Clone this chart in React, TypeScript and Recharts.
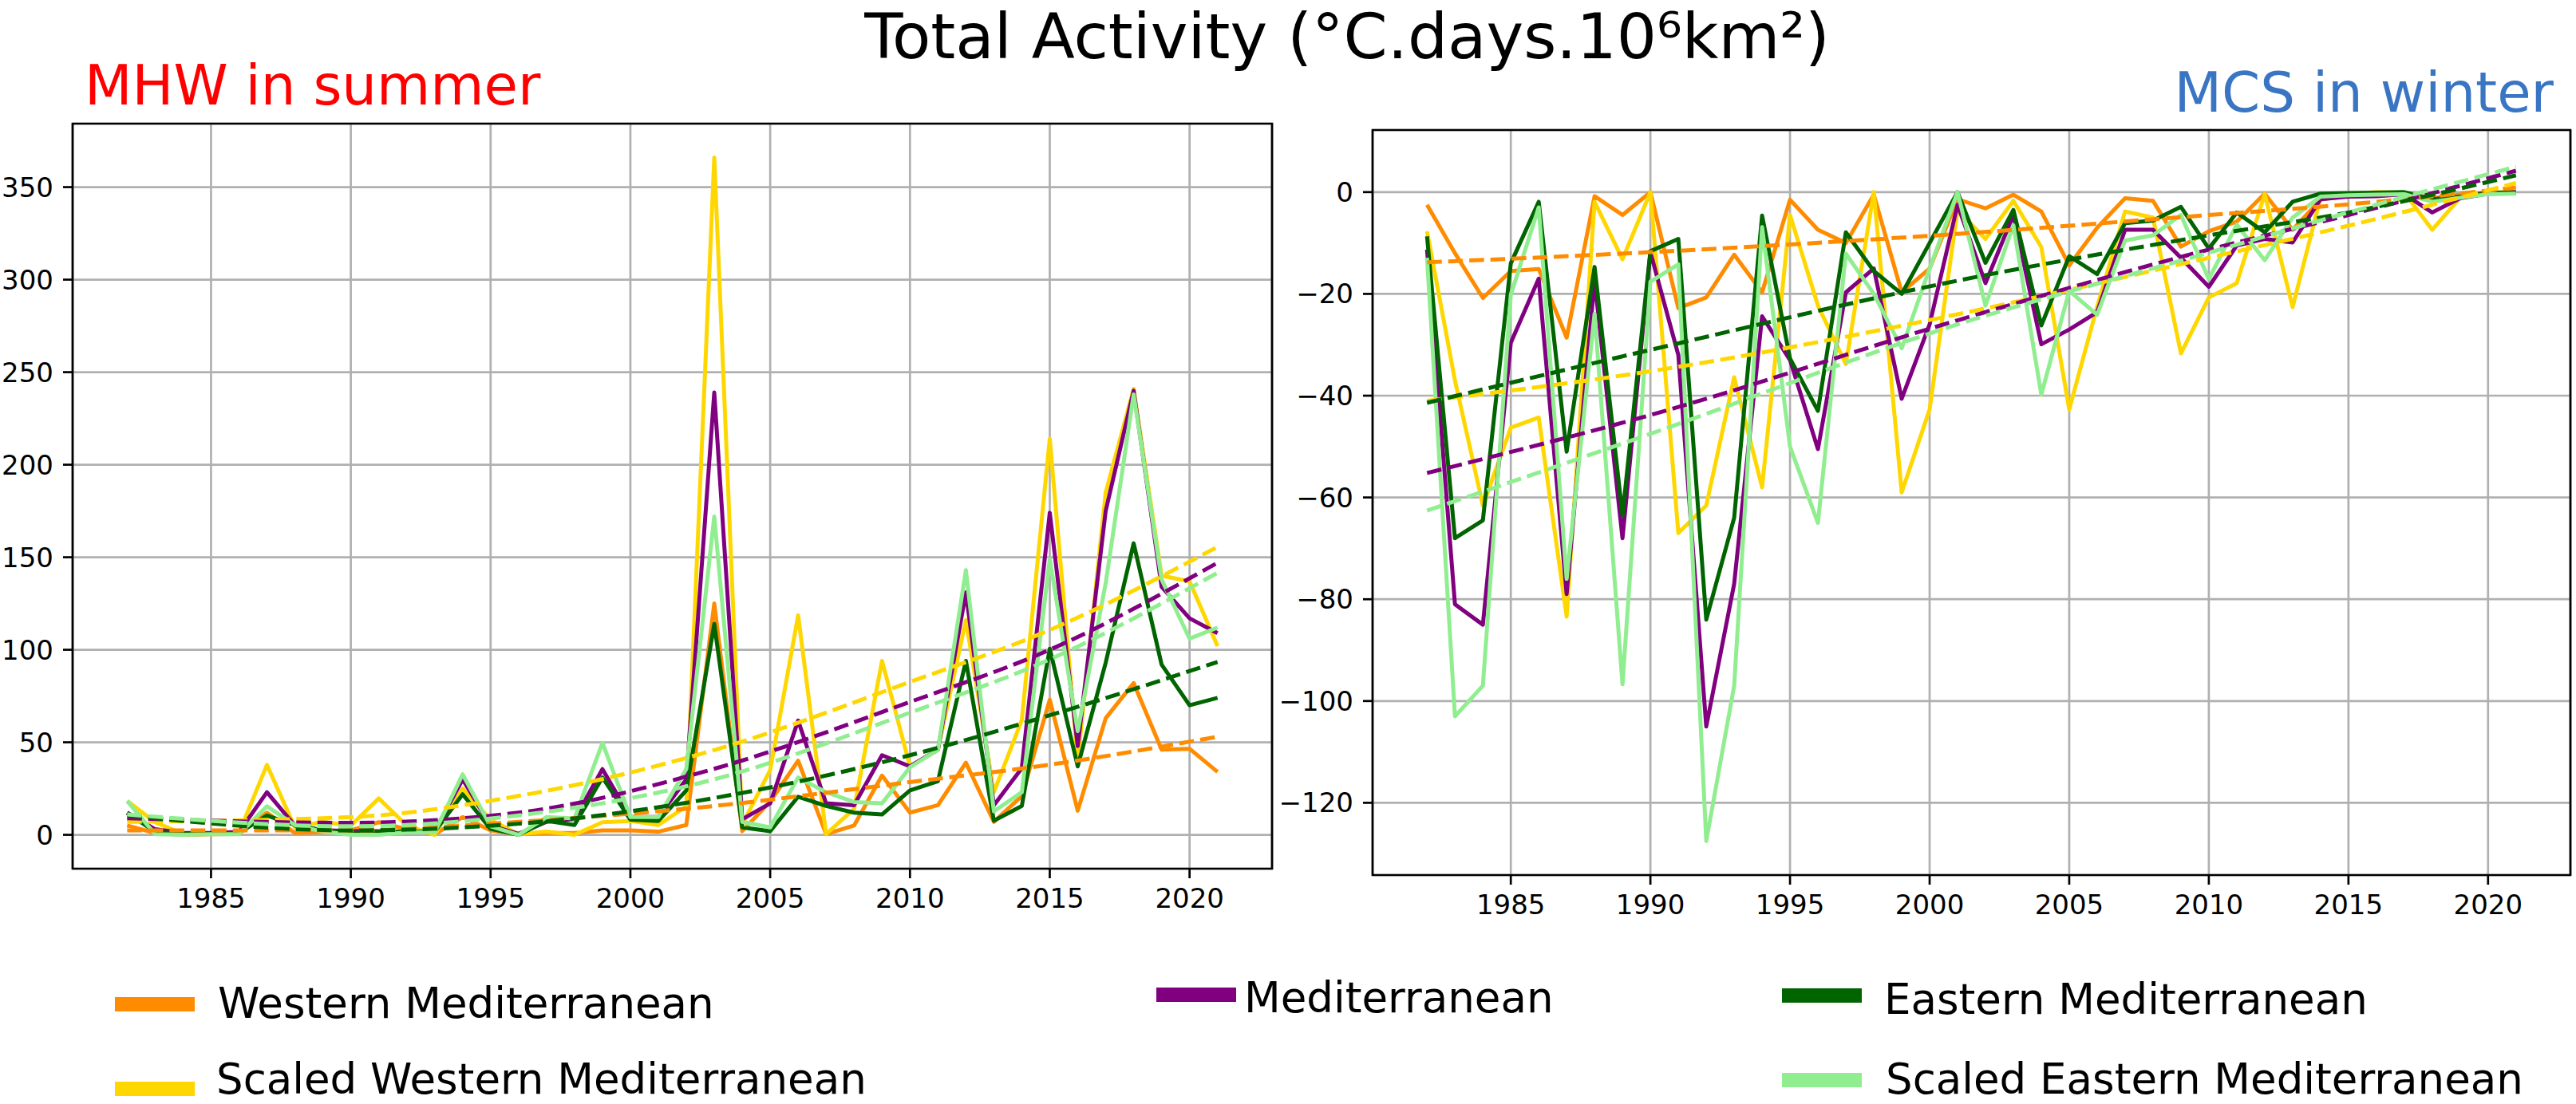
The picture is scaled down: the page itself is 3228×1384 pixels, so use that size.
import React from "react";
import {
  LineChart,
  Line,
  XAxis,
  YAxis,
  CartesianGrid,
  ReferenceArea,
} from "recharts";

// ---- data -----------------------------------------------------------------

const YEARS = [
  1982, 1983, 1984, 1985, 1986, 1987, 1988, 1989, 1990, 1991,
  1992, 1993, 1994, 1995, 1996, 1997, 1998, 1999, 2000, 2001,
  2002, 2003, 2004, 2005, 2006, 2007, 2008, 2009, 2010, 2011,
  2012, 2013, 2014, 2015, 2016, 2017, 2018, 2019, 2020, 2021,
];

// MHW in summer
const MHW_WESTERN = [
  5, 1, 0, 0.3, 0.5, 12, 1, 1.5, 2.4, 6.8,
  3, 0.3, 9.6, 2.4, 0.3, 1, 1, 2.4, 2.4, 1.7,
  5.3, 125, 2, 18, 40, 0.4, 5, 32, 12, 16,
  39, 7, 21, 73, 13, 63, 82, 46, 46.5, 34,
];
const MHW_MED = [
  12, 3, 1, 1, 1.5, 23, 5, 2.5, 2, 2,
  1.5, 2, 30, 5, 0.5, 7, 8.5, 35.5, 9.6, 9.6,
  30, 239, 8.4, 17, 61.7, 17, 16, 43, 37, 46,
  131, 16, 36, 174, 48, 175, 240, 134, 117, 109,
];
const MHW_EASTERN = [
  11.8, 1.7, 0.5, 0.5, 1, 10.4, 5.3, 2.4, 1, 1.7,
  1.7, 1.7, 21.9, 3.2, 0, 7.5, 5.3, 31, 8.2, 7.5,
  24, 114, 4, 2, 20.6, 15.6, 12, 11, 24, 29,
  94, 7.6, 15.6, 100.6, 37, 93, 157.5, 92, 70, 74,
];
const MHW_SCALED_WESTERN = [
  18.3, 6.8, 0.5, 0.5, 1, 37.8, 4, 7, 5, 19.7,
  5, 0, 25, 8, 0.3, 1.7, 0, 6.8, 7.5, 5.3,
  15.4, 366, 5.5, 35, 118.6, 0.4, 14, 94, 37, 46,
  116, 23, 62, 214, 40, 185, 241, 140, 137, 102,
];
const MHW_SCALED_EASTERN = [
  18.3, 0.3, 0, 0.3, 0.3, 15.4, 5.3, 1.7, 0, 0,
  1.3, 1.3, 32.7, 4.6, 0, 9.6, 8.9, 49.7, 9.6, 9.6,
  35.6, 172, 7, 4, 31, 23, 17.7, 17, 36.5, 46,
  143, 12.7, 23, 149, 56, 136, 238, 138, 106, 112,
];

// fitted trends (dashed), read at a few years
const MHW_TREND_YEARS = [1982, 1990, 1996, 2003, 2010, 2015, 2021];
const MHW_TREND_WESTERN = [2.4, 2.4, 7, 15.6, 28.5, 37.9, 53];
const MHW_TREND_MED = [9, 6.5, 12, 35.7, 71.8, 100, 147];
const MHW_TREND_EASTERN = [10.5, 2.4, 6, 19.9, 43, 64.6, 93.4];
const MHW_TREND_SCALED_WESTERN = [7, 9.6, 21, 45.8, 82.6, 110.7, 155.6];
const MHW_TREND_SCALED_EASTERN = [11, 4.6, 10.5, 30, 66, 94.8, 141.6];

// MCS in winter
const MCS_WESTERN = [
  -2.5, -12, -20.8, -15.5, -15.1, -28.6, -0.8, -4.5, 0, -22.8,
  -20.7, -12.3, -19.7, -1.5, -7.4, -10, -0.5, -19.7, -15, -1.4,
  -3.2, -0.5, -3.8, -14.4, -7, -1.2, -1.7, -10.7, -7.7, -5.8,
  -0.3, -7.4, -1.5, -0.6, -0.4, -0.1, -1.2, -0.5, -0.1, 0,
];
const MCS_MED = [
  -11.3, -81, -85, -29.6, -17, -79, -17.3, -68, -11.8, -32,
  -105, -77, -24.4, -33, -50.5, -19.7, -15, -40.6, -26, -2.5,
  -17.9, -4.5, -29.9, -27, -23.6, -7.4, -7.4, -12.9, -18.6, -10.5,
  -9.2, -9.9, -1.4, -0.9, -0.8, -0.4, -4, -1.2, -0.3, 0,
];
const MCS_EASTERN = [
  -8.7, -68, -64.5, -14, -1.9, -51, -14.7, -63.5, -11.6, -9.2,
  -84, -64, -4.6, -32.7, -43, -7.9, -15.5, -20, -10, 0,
  -13.9, -3.5, -26.2, -12.6, -16.1, -6.1, -5.6, -2.9, -11.1, -4,
  -7.9, -1.9, -0.3, -0.2, -0.1, 0, -1.4, -0.9, -0.1, -0.1,
];
const MCS_SCALED_WESTERN = [
  -7.7, -37, -61.6, -46.3, -44.3, -83.4, -1.9, -13.2, 0, -67,
  -61.6, -36.4, -58, -4.5, -22.3, -33.8, 0, -59, -42.7, -3.5,
  -9.2, -1.7, -10.8, -42.7, -22.5, -3.8, -5, -31.7, -20.7, -17.9,
  -0.4, -22.6, -1.1, -0.4, 0, -0.1, -7.4, -1.1, -0.1, 0,
];
const MCS_SCALED_EASTERN = [
  -12.9, -103, -97, -20.2, -3, -76, -23.9, -96.7, -17.6, -14.2,
  -127.5, -97, -6.9, -50, -65, -12.1, -20, -30.7, -15, 0,
  -22.3, -6.5, -39.8, -19.4, -24.1, -9.5, -8.5, -4.5, -17.1, -6.4,
  -13.4, -5, -0.9, -0.6, -0.5, -0.4, -1.9, -1.1, -0.4, -0.3,
];

const MCS_TREND_YEARS = [1982, 1990, 2001, 2010, 2015, 2021];
const MCS_TREND_WESTERN = [-13.8, -11.8, -8.2, -4.5, -2.4, 0.9];
const MCS_TREND_MED = [-55.2, -43.8, -25.2, -11.3, -4.5, 4.2];
const MCS_TREND_EASTERN = [-41.4, -31, -17.4, -8.5, -4, 3.3];
const MCS_TREND_SCALED_WESTERN = [-41, -35.2, -24, -12.9, -6.6, 1.8];
const MCS_TREND_SCALED_EASTERN = [-62.6, -47.5, -26, -11.9, -4, 5];

const X_TICKS = [1985, 1990, 1995, 2000, 2005, 2010, 2015, 2020];
const MHW_Y_TICKS = [0, 50, 100, 150, 200, 250, 300, 350];
const MCS_Y_TICKS = [-120, -100, -80, -60, -40, -20, 0];

// ---- series / styling ---------------------------------------------------------

const SERIES = [
  { key: "w", name: "Western Mediterranean", color: "#ff8c00" },
  { key: "sw", name: "Scaled Western Mediterranean", color: "#ffd700" },
  { key: "med", name: "Mediterranean", color: "#800080" },
  { key: "e", name: "Eastern Mediterranean", color: "#006400" },
  { key: "se", name: "Scaled Eastern Mediterranean", color: "#90ee90" },
];

const FONT = "'DejaVu Sans', sans-serif";
const X_DOMAIN = [1980.05, 2022.95];
const GRID = "#b0b0b0";
const THIN = 2.7;

function buildRows(values, trendYears, trends) {
  return YEARS.map((year, i) => {
    const row = { year };
    const t = trendYears.indexOf(year);
    SERIES.forEach((s) => {
      row[s.key] = values[s.key][i];
      row[s.key + "T"] = t >= 0 ? trends[s.key][t] : null;
    });
    return row;
  });
}

const mhwRows = buildRows(
  { w: MHW_WESTERN, sw: MHW_SCALED_WESTERN, med: MHW_MED, e: MHW_EASTERN, se: MHW_SCALED_EASTERN },
  MHW_TREND_YEARS,
  {
    w: MHW_TREND_WESTERN,
    sw: MHW_TREND_SCALED_WESTERN,
    med: MHW_TREND_MED,
    e: MHW_TREND_EASTERN,
    se: MHW_TREND_SCALED_EASTERN,
  }
);

const mcsRows = buildRows(
  { w: MCS_WESTERN, sw: MCS_SCALED_WESTERN, med: MCS_MED, e: MCS_EASTERN, se: MCS_SCALED_EASTERN },
  MCS_TREND_YEARS,
  {
    w: MCS_TREND_WESTERN,
    sw: MCS_TREND_SCALED_WESTERN,
    med: MCS_TREND_MED,
    e: MCS_TREND_EASTERN,
    se: MCS_TREND_SCALED_EASTERN,
  }
);

const fmtY = (v: number) => (v < 0 ? `\u2212${Math.abs(v)}` : `${v}`);

type PanelProps = {
  rows: any[];
  yDomain: number[];
  yTicks: number[];
  left: number;
  width: number;
  margin: { top: number; right: number; bottom: number; left: number };
  yAxisWidth: number;
};

const Panel: React.FC<PanelProps> = ({ rows, yDomain, yTicks, left, width, margin, yAxisWidth }) => {
  const tick = { fontSize: 34, fontFamily: FONT, fill: "#000" };
  return (
    <div style={{ position: "absolute", left, top: 0 }}>
      <LineChart width={width} height={1200} data={rows} margin={margin}>
        <CartesianGrid stroke={GRID} strokeWidth={THIN} />
        <XAxis
          type="number"
          dataKey="year"
          domain={X_DOMAIN}
          ticks={X_TICKS}
          interval={0}
          allowDataOverflow
          height={60}
          axisLine={false}
          tickSize={12}
          tickMargin={13}
          tickLine={{ stroke: "#000", strokeWidth: THIN }}
          tick={tick}
        />
        <YAxis
          type="number"
          domain={yDomain}
          ticks={yTicks}
          interval={0}
          allowDataOverflow
          width={yAxisWidth}
          axisLine={false}
          tickSize={12}
          tickMargin={12}
          tickLine={{ stroke: "#000", strokeWidth: THIN }}
          tick={tick}
          tickFormatter={fmtY}
        />
        {SERIES.map((s) => (
          <Line
            key={s.key}
            type="linear"
            dataKey={s.key}
            stroke={s.color}
            strokeWidth={5}
            strokeLinejoin="round"
            dot={false}
            activeDot={false}
            isAnimationActive={false}
          />
        ))}
        {SERIES.map((s) => (
          <Line
            key={s.key + "T"}
            type="monotone"
            dataKey={s.key + "T"}
            stroke={s.color}
            strokeWidth={5}
            strokeDasharray="18.5 8"
            connectNulls
            dot={false}
            activeDot={false}
            isAnimationActive={false}
          />
        ))}
        <ReferenceArea
          x1={X_DOMAIN[0]}
          x2={X_DOMAIN[1]}
          y1={yDomain[0]}
          y2={yDomain[1]}
          fill="none"
          stroke="#000"
          strokeWidth={THIN}
          ifOverflow="visible"
        />
      </LineChart>
    </div>
  );
};

// legend placement (swatch left, swatch centre y, text left, text baseline)
const LEGEND_LAYOUT = {
  w: { sx: 144, sy: 1259, tx: 273, base: 1276 },
  sw: { sx: 144, sy: 1365, tx: 271, base: 1371 },
  med: { sx: 1449, sy: 1247, tx: 1559, base: 1269 },
  e: { sx: 2233, sy: 1248, tx: 2361, base: 1271 },
  se: { sx: 2233, sy: 1354, tx: 2363, base: 1371 },
};

const text = (size: number, baseline: number) => ({
  position: "absolute" as const,
  fontFamily: FONT,
  fontSize: size,
  lineHeight: `${size}px`,
  top: baseline - 0.846 * size,
  whiteSpace: "nowrap" as const,
});

export default function App() {
  return (
    <div
      style={{
        position: "absolute",
        left: 0,
        top: 0,
        width: 3228,
        height: 1384,
        background: "#fff",
        overflow: "hidden",
      }}
    >
      <div style={{ ...text(79, 74), left: 688, width: 2000, textAlign: "center", color: "#000" }}>
        Total Activity (°C.days.10⁶km²)
      </div>
      <div style={{ ...text(69, 131), left: 106, color: "#ff0000" }}>MHW in summer</div>
      <div style={{ ...text(69, 140), right: 28, color: "#3a75c4" }}>MCS in winter</div>

      <Panel
        rows={mhwRows}
        yDomain={[-18.3, 384.3]}
        yTicks={MHW_Y_TICKS}
        left={0}
        width={1640}
        margin={{ top: 155, right: 46, bottom: 51, left: 11 }}
        yAxisWidth={80}
      />
      <Panel
        rows={mcsRows}
        yDomain={[-134.2, 12.2]}
        yTicks={MCS_Y_TICKS}
        left={1600}
        width={1628}
        margin={{ top: 163, right: 7, bottom: 43, left: 20 }}
        yAxisWidth={100}
      />

      {SERIES.map((s) => {
        const p = LEGEND_LAYOUT[s.key];
        return (
          <React.Fragment key={s.key}>
            <div
              style={{
                position: "absolute",
                left: p.sx,
                top: p.sy - 9,
                width: 100,
                height: 18,
                background: s.color,
              }}
            />
            <div style={{ ...text(53, p.base), left: p.tx, color: "#000" }}>{s.name}</div>
          </React.Fragment>
        );
      })}
    </div>
  );
}
